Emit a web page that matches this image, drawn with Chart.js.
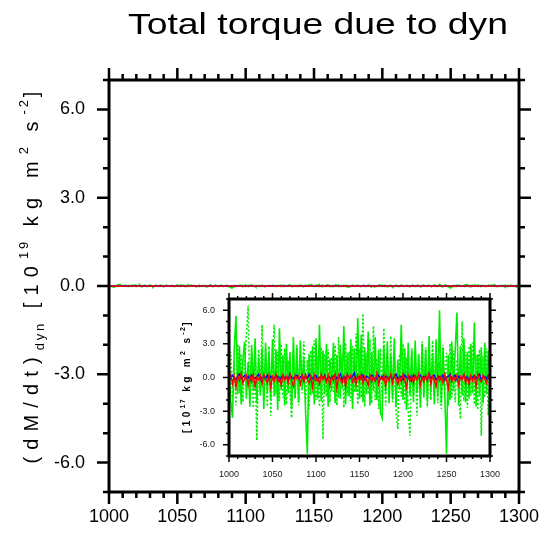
<!DOCTYPE html>
<html>
<head>
<meta charset="utf-8">
<script src="https://cdn.jsdelivr.net/npm/chart.js@4.4.0/dist/chart.umd.min.js"></script>
<style>
html, body { margin: 0; padding: 0; background: #fff; }
#wrap { position: relative; width: 541px; height: 535px; }
#main { position: absolute; left: 0; top: 0; }
#inset { position: absolute; left: 170px; top: 290px; }
</style>
</head>
<body>
<div id="wrap">
  <canvas id="main" width="541" height="535"></canvas>
  <canvas id="inset" width="330" height="195"></canvas>
</div>
<script>
// years of the series (every 2nd year)
const years = [];
for (let y = 1000; y <= 1300; y += 2) years.push(y);

// values in units of 10^17 kg m^2 s^-2 (inset units)
const greenSolid = [
  1.2,-2.1,-3.6,2.4,5.5,-1.5,2.8,-2.4,1.6,3.2,
  -1.9,1.4,-2.6,2.9,-1.2,3.5,-2.3,1.8,-1.6,2.6,
  -2.8,3.1,-1.3,2.2,-2.0,3.4,-1.7,2.5,-2.9,4.4,
  -1.1,2.0,-2.5,3.0,-1.4,2.3,-2.7,3.6,-1.8,2.7,
  -2.2,3.3,-1.0,1.9,-3.0,-6.8,2.1,-1.6,2.8,-2.4,
  3.5,-1.9,4.7,-2.1,2.4,-1.5,3.0,-2.6,1.7,-1.2,
  3.1,-2.3,2.0,-1.8,2.9,-1.0,4.6,-2.4,2.2,-1.7,
  3.4,-2.8,2.6,-1.3,5.3,-1.9,3.8,-2.2,2.7,-1.5,
  4.1,-2.5,2.3,-1.2,3.6,-2.0,2.5,-3.1,-3.6,2.9,
  -1.4,3.2,-2.3,2.0,-1.8,3.5,-2.6,1.6,-1.1,4.7,
  -2.0,2.6,-2.9,3.1,-1.6,2.4,-2.2,3.3,-1.4,2.1,
  -2.7,3.0,-1.8,2.5,-2.1,3.7,-1.3,2.2,-2.4,3.4,
  -1.7,6.0,-2.3,2.7,-1.5,-6.8,2.0,-2.0,3.2,-1.2,
  2.4,5.8,-2.5,2.8,-1.6,3.5,-2.2,2.3,-1.9,3.0,
  -1.4,4.9,-2.6,2.1,-1.7,2.7,-2.3,3.1,-1.5,2.4,
  -0.8
];
const greenDotted = [
  -1.0,2.3,-1.8,1.5,-2.5,3.0,-1.4,2.1,-2.2,1.3,
  3.8,6.4,-1.6,2.0,-2.7,1.4,-5.6,2.5,-1.2,4.7,
  -2.0,1.7,-2.6,2.8,-3.4,1.9,4.7,-1.5,2.3,-2.1,
  3.0,-1.8,2.6,-2.4,1.5,-1.3,-3.6,2.2,-1.9,2.9,
  -2.5,1.8,-1.4,3.2,-2.2,1.6,-2.8,2.4,-1.5,3.3,
  -2.0,1.9,-2.6,2.7,-5.5,2.1,-1.7,2.5,-2.2,1.8,
  -1.4,2.9,-2.5,3.6,-1.9,2.0,-2.7,3.1,-1.6,2.3,
  -2.1,2.8,-1.3,3.9,-2.4,2.5,-1.8,5.7,-2.6,2.2,
  -1.5,3.4,-2.3,4.6,-2.0,1.7,-2.8,2.6,-1.9,4.4,
  -2.5,1.6,-1.3,3.7,-2.2,2.4,-3.0,-4.6,2.1,-1.7,
  3.0,-2.4,1.8,-2.9,-5.2,2.6,-1.6,2.2,-3.4,1.9,
  -2.1,3.2,-1.5,2.7,-2.6,1.8,-2.0,3.3,-1.7,2.5,
  -2.3,1.4,-2.8,2.9,-1.2,2.2,-2.5,3.0,-1.8,2.4,
  -2.2,1.6,-1.4,-3.7,5.0,-2.1,2.3,-2.7,2.8,-1.6,
  3.1,-2.4,2.0,-2.9,2.5,-5.2,1.9,-1.8,2.6,-3.4,
  1.2
];
const redSeries = [
  -0.2,0.3,-0.6,0.1,-0.9,0.2,-0.3,0.4,-0.5,-0.1,
  0.2,-0.7,0.1,-0.4,0.3,-0.8,0.0,-0.2,0.2,-0.6,
  0.3,-0.1,-0.5,0.2,-0.9,0.1,-0.3,0.3,-0.4,0.0,
  -0.7,0.2,-0.2,0.1,-0.5,0.3,-0.3,-0.8,0.2,-0.1,
  0.1,-0.6,0.2,-0.4,0.3,-0.2,-0.5,0.1,-0.9,0.2,
  -0.3,0.0,-0.6,0.3,-0.2,0.1,-0.4,0.2,-0.7,0.1,
  -0.3,0.3,-1.0,0.2,-0.2,-0.5,0.1,-0.8,0.3,-0.1,
  0.2,-0.4,0.0,-0.6,0.2,-0.3,0.3,-0.5,0.1,-0.2,
  -0.7,0.2,-0.4,0.1,-0.3,0.4,-0.6,0.0,-0.2,0.2,
  -0.8,0.1,-0.3,0.3,-0.5,0.2,-0.1,-0.6,0.1,-0.4,
  0.3,-0.2,-0.9,0.2,-0.3,0.1,-0.5,0.2,-0.2,0.3,
  -0.7,0.0,-0.4,0.2,-0.3,0.4,-0.6,0.1,-0.2,-0.8,
  0.2,-0.3,0.1,-0.5,0.3,-0.2,-1.0,0.2,-0.4,0.1,
  -0.3,0.2,-0.7,0.1,-0.2,0.3,-0.5,0.0,-0.6,0.2,
  -0.3,0.1,-0.8,0.3,-0.2,-0.4,0.2,-0.1,-0.5,0.1,
  -0.3
];
const blueSeries = [
  0.1,-0.1,0.2,0.0,-0.2,0.1,0.3,-0.1,0.0,0.2,
  -0.1,0.1,-0.2,0.2,0.0,-0.1,0.1,0.3,-0.2,0.0,
  0.1,-0.1,0.2,-0.2,0.1,0.0,-0.1,0.2,0.1,-0.3,
  0.0,0.2,-0.1,0.1,-0.2,0.3,0.0,-0.1,0.1,0.2,
  -0.1,0.0,0.2,-0.2,0.1,-0.1,0.3,0.0,-0.1,0.1,
  0.2,-0.2,0.0,0.1,-0.1,0.2,-0.3,0.1,0.0,-0.1,
  0.1,0.2,-0.1,0.0,0.3,-0.2,0.1,-0.1,0.2,0.0,
  -0.1,0.1,0.4,-0.2,0.0,0.1,-0.1,0.2,-0.2,0.1,
  0.0,-0.1,0.2,0.1,-0.3,0.0,0.2,-0.1,0.1,-0.2,
  0.1,0.0,-0.1,0.2,-0.2,0.1,0.3,-0.1,0.0,0.1,
  -0.2,0.2,0.0,-0.1,0.1,-0.3,0.2,0.0,-0.1,0.1,
  0.2,-0.1,0.1,0.0,-0.2,0.3,-0.1,0.1,0.2,-0.2,
  0.0,0.1,-0.1,0.2,-0.2,0.0,0.1,0.3,-0.1,0.0,
  0.2,-0.2,0.1,-0.1,0.0,0.2,-0.1,0.1,-0.3,0.1,
  0.0,0.2,-0.1,0.1,0.3,-0.2,0.0,0.1,-0.1,0.2,
  0.0
];

// main panel is in 10^19, inset in 10^17
const unitRatio = 100;

const FONT = '"Liberation Sans", Arial, Helvetica, sans-serif';
const GREEN = '#00ee00';

const pts = (vals, div) => vals.map((v, i) => ({ x: years[i], y: v / div }));

function makeDatasets(div, gw, rw) {
  return [
    { data: pts(redSeries, div), borderColor: '#ff0000', borderWidth: rw, order: 0 },
    { data: pts(blueSeries, div), borderColor: '#0000ff', borderWidth: rw, order: 1 },
    { data: pts(greenDotted, div), borderColor: GREEN, borderWidth: gw, borderDash: [2, 2], order: 2 },
    { data: pts(greenSolid, div), borderColor: GREEN, borderWidth: gw, order: 3 }
  ];
}

// frame and outward ticks on all four sides
const nclFrame = {
  id: 'nclFrame',
  afterDatasetsDraw(chart, args, o) {
    const { ctx, chartArea: a, scales: { x, y } } = chart;
    ctx.save();
    ctx.strokeStyle = '#000';
    ctx.lineWidth = o.tw;
    ctx.beginPath();
    for (let v = x.min; v <= x.max + 1e-6; v += o.xMinor) {
      const px = x.getPixelForValue(v);
      const len = Math.abs(v % o.xMajor) < 1e-6 ? o.major : o.minor;
      ctx.moveTo(px, a.bottom); ctx.lineTo(px, a.bottom + len);
      ctx.moveTo(px, a.top); ctx.lineTo(px, a.top - len);
    }
    for (let v = y.min; v <= y.max + 1e-6; v += o.yMinor) {
      const py = y.getPixelForValue(v);
      const len = Math.abs(v % o.yMajor) < 1e-6 ? o.major : o.minor;
      ctx.moveTo(a.left, py); ctx.lineTo(a.left - len, py);
      ctx.moveTo(a.right, py); ctx.lineTo(a.right + len, py);
    }
    ctx.stroke();
    ctx.lineWidth = o.lw;
    ctx.strokeRect(a.left, a.top, a.right - a.left, a.bottom - a.top);
    ctx.restore();
  }
};

// rotated label with sub/superscripts, spread to a given length
// (small chars get less of the extra spacing)
function drawVerticalLabel(ctx, segs, baseX, cy, length, weight) {
  let natural = 0, units = 0;
  segs.forEach(s => {
    ctx.font = weight + ' ' + s.size + 'px ' + FONT;
    for (const ch of s.text) { natural += ctx.measureText(ch).width; units += s.off ? 0.4 : 1; }
  });
  const sp = (length - natural) / units;
  ctx.save();
  ctx.translate(baseX, cy);
  ctx.rotate(-Math.PI / 2);
  ctx.fillStyle = '#000';
  ctx.textAlign = 'left';
  ctx.textBaseline = 'alphabetic';
  let pos = -length / 2;
  segs.forEach(s => {
    ctx.font = weight + ' ' + s.size + 'px ' + FONT;
    for (const ch of s.text) {
      ctx.fillText(ch, pos, s.off || 0);
      pos += ctx.measureText(ch).width + sp * (s.off ? 0.4 : 1);
    }
  });
  ctx.restore();
}

const mainText = {
  id: 'mainText',
  afterDraw(chart) {
    const ctx = chart.ctx;
    const title = 'Total torque due to dyn';
    ctx.save();
    ctx.font = '30px ' + FONT;
    const w = ctx.measureText(title).width;
    ctx.translate(318, 34);
    ctx.scale(380 / w, 1);
    ctx.textAlign = 'center';
    ctx.textBaseline = 'alphabetic';
    ctx.fillStyle = '#000';
    ctx.fillText(title, 0, 0);
    ctx.restore();
    drawVerticalLabel(ctx, [
      { text: '(dM/dt)', size: 20 },
      { text: 'dyn', size: 13, off: 6 },
      { text: ' [10', size: 20 },
      { text: '19', size: 13, off: -10 },
      { text: ' kg m', size: 20 },
      { text: '2', size: 13, off: -10 },
      { text: ' s', size: 20 },
      { text: '-2', size: 13, off: -10 },
      { text: ']', size: 20 }
    ], 38, 274, 379, 'normal');
  }
};

const insetText = {
  id: 'insetText',
  afterDraw(chart) {
    drawVerticalLabel(chart.ctx, [
      { text: '[10', size: 10 },
      { text: '17', size: 7, off: -5 },
      { text: ' kg m', size: 10 },
      { text: '2', size: 7, off: -5 },
      { text: ' s', size: 10 },
      { text: '-2', size: 7, off: -5 },
      { text: ']', size: 10 }
    ], 20, 86, 114, 'bold');
  }
};

// fixed axis sizes, no extra label padding so the plot box lands where wanted
function fixSize(prop, val) {
  return s => {
    s[prop] = val;
    s.paddingLeft = 0; s.paddingRight = 0; s.paddingTop = 0; s.paddingBottom = 0;
  };
}

function makeOptions(c) {
  return {
    responsive: false,
    animation: false,
    events: [],
    layout: { padding: c.padding },
    elements: { point: { radius: 0 }, line: { tension: 0, fill: false } },
    plugins: {
      legend: { display: false },
      tooltip: { enabled: false },
      nclFrame: c.frame
    },
    scales: {
      x: {
        type: 'linear', min: 1000, max: 1300,
        grid: { display: false, drawTicks: false },
        border: { display: false },
        afterFit: fixSize('height', c.xh),
        ticks: {
          stepSize: 10, autoSkip: false, maxRotation: 0, minRotation: 0,
          padding: c.xpad, color: c.color,
          font: { family: FONT, size: c.fs },
          callback: v => (v % 50 === 0 ? String(v) : '')
        }
      },
      y: {
        type: 'linear', min: -7, max: 7,
        grid: { display: false, drawTicks: false },
        border: { display: false },
        afterFit: fixSize('width', c.yw),
        ticks: {
          stepSize: 1, autoSkip: false,
          padding: c.ypad, color: c.color,
          font: { family: FONT, size: c.fs },
          callback: v => (v % 3 === 0 ? v.toFixed(1) : '')
        }
      }
    }
  };
}

new Chart(document.getElementById('main'), {
  type: 'line',
  data: { datasets: makeDatasets(unitRatio, 1.6, 1.4) },
  options: makeOptions({
    padding: { top: 80, right: 22, left: 0, bottom: 0 },
    xh: 43, yw: 109, xpad: 14, ypad: 24, fs: 18, color: '#000',
    frame: { lw: 3, tw: 2.5, major: 12, minor: 6, xMajor: 50, xMinor: 10, yMajor: 3, yMinor: 1 }
  }),
  plugins: [nclFrame, mainText]
});

new Chart(document.getElementById('inset'), {
  type: 'line',
  data: { datasets: makeDatasets(1, 1.6, 1.4) },
  options: makeOptions({
    padding: { top: 9, right: 10, left: 0, bottom: 0 },
    xh: 29, yw: 59, xpad: 13, ypad: 14, fs: 9, color: '#222',
    frame: { lw: 3, tw: 1.5, major: 6, minor: 3, xMajor: 50, xMinor: 10, yMajor: 3, yMinor: 1 }
  }),
  plugins: [nclFrame, insetText]
});
</script>
</body>
</html>
